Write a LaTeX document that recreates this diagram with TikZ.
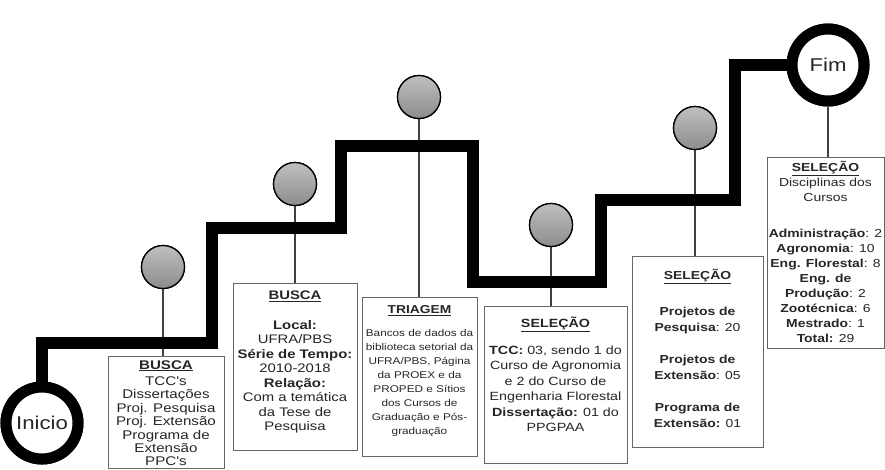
\documentclass[tikz,border=0pt]{standalone}
\usepackage{fontspec}
\setmainfont{Liberation Sans}
\newfontfamily\widefont{Liberation Sans}[FakeStretch=1.2]
\begin{document}
\begin{tikzpicture}[x=1pt,y=-1pt,
  stair/.style={line width=12pt, line join=miter, draw=black},
  ring/.style={circle, draw=black, line width=11pt, fill=white, minimum size=72pt, inner sep=0pt, text=black!85, font=\widefont\fontsize{18.5}{21}\selectfont},
  dot/.style={circle, draw=black, line width=1.3pt, minimum size=43pt, inner sep=0pt, top color=black!25, bottom color=black!45},
  stem/.style={draw=black!75, line width=1.3pt},
  box/.style={draw=black!60, line width=0.9pt, fill=white, rectangle, inner sep=0pt},
  txt/.style={anchor=north, align=center, inner sep=0pt, text=black!85},
]
\useasboundingbox (0,0) rectangle (885,469);

% circles
\node[dot] (g1) at (163,267) {};
\node[dot] (g2) at (295,184) {};
\node[dot] (g3) at (419,97) {};
\node[dot] (g4) at (551,225) {};
\node[dot] (g5) at (695,128) {};

% boxes
\node[box, minimum width=116pt, minimum height=112pt, anchor=north] (b1) at (166,356) {};
\node[box, minimum width=124pt, minimum height=167pt, anchor=north] (b2) at (295,283) {};
\node[box, minimum width=115pt, minimum height=159pt, anchor=north] (b3) at (419.5,297) {};
\node[box, minimum width=143pt, minimum height=157pt, anchor=north] (b4) at (555.5,306) {};
\node[box, minimum width=131pt, minimum height=191pt, anchor=north] (b5) at (697.5,256) {};
\node[box, minimum width=117pt, minimum height=191pt, anchor=north] (b6) at (825.5,157) {};

\node[ring] (ini) at (42,423) {Inicio};
\node[ring] (fim) at (828,65) {Fim};

% stems
\draw[stem] (g1.south) -- (g1.south |- b1.north);
\draw[stem] (g2.south) -- (g2.south |- b2.north);
\draw[stem] (g3.south) -- (g3.south |- b3.north);
\draw[stem] (g4.south) -- (g4.south |- b4.north);
\draw[stem] (g5.south) -- (g5.south |- b5.north);
\draw[stem] (fim.south) -- (fim.south |- b6.north);

% staircase
\draw[stair] (ini.north) -- (42,343) -- (212,343) -- (212,228) -- (341,228) -- (341,146)
  -- (473,146) -- (473,282) -- (601,282) -- (601,200) -- (735,200) -- (735,65) -- (fim.west);

% circles on top of the staircase
\node[dot] at (g1) {};
\node[dot] at (g2) {};
\node[dot] at (g3) {};
\node[dot] at (g4) {};
\node[dot] at (g5) {};
\node[ring] at (ini) {Inicio};
\node[ring] at (fim) {Fim};

% texts
\node[txt, font=\widefont\fontsize{12.6}{13.4}\selectfont] (t1) at ([yshift=-4pt]b1.north) {\textbf{\underline{BUSCA}}\\[3pt]
TCC's\\Dissertações\\Proj. Pesquisa\\Proj. Extensão\\Programa de\\Extensão\\PPC's};

\node[txt, font=\widefont\fontsize{12.4}{14.5}\selectfont] (t2) at ([yshift=-8pt]b2.north) {\textbf{\underline{BUSCA}}\\[15pt]
\textbf{Local:}\\UFRA/PBS\\\textbf{Série de Tempo:}\\2010-2018\\\textbf{Relação:}\\Com a temática\\da Tese de\\Pesquisa};

\node[txt, font=\widefont\fontsize{9.8}{14}\selectfont] (t3) at ([yshift=-8pt]b3.north) {{\fontsize{11.5}{14}\selectfont\textbf{\underline{TRIAGEM}}}\\[9pt]
Bancos de dados da\\biblioteca setorial da\\UFRA/PBS, Página\\da PROEX e da\\PROPED e Sítios\\dos Cursos de\\Graduação e Pós-\\graduação};

\node[txt, font=\widefont\fontsize{11.9}{15.5}\selectfont] (t4) at ([yshift=-11pt]b4.north) {\textbf{\underline{SELEÇÃO}}\\[11pt]
\textbf{TCC:} 03, sendo 1 do\\Curso de Agronomia\\e 2 do Curso de\\Engenharia Florestal\\\textbf{Dissertação:} 01 do\\PPGPAA};

\node[txt, font=\widefont\fontsize{11.6}{16}\selectfont] (t5) at ([yshift=-13pt]b5.north) {\textbf{\underline{SELEÇÃO}}\\[20pt]
\textbf{Projetos de}\\\textbf{Pesquisa}: 20\\[16pt]
\textbf{Projetos de}\\\textbf{Extensão}: 05\\[16pt]
\textbf{Programa de}\\\textbf{Extensão:} 01};

\node[txt, font=\widefont\fontsize{11.6}{15}\selectfont] (t6) at ([yshift=-4pt]b6.north) {\textbf{\underline{SELEÇÃO}}\\
Disciplinas dos\\Cursos\\[21pt]
\textbf{Administração}: 2\\\textbf{Agronomia}: 10\\\textbf{Eng. Florestal}: 8\\\textbf{Eng. de}\\\textbf{Produção}: 2\\\textbf{Zootécnica}: 6\\\textbf{Mestrado}: 1\\\textbf{Total:} 29};
\end{tikzpicture}
\end{document}
